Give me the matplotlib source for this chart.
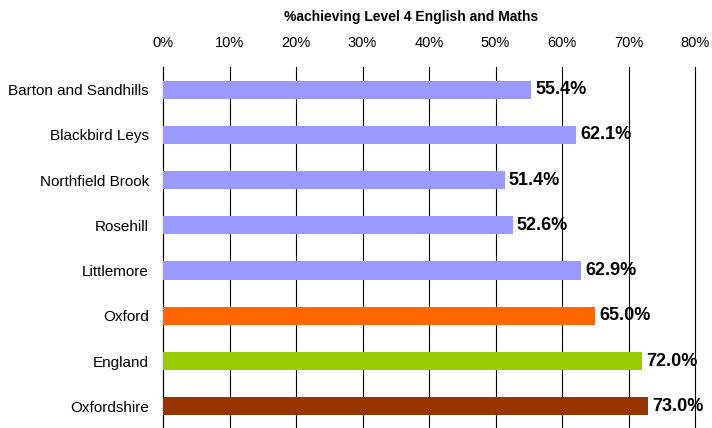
import matplotlib
matplotlib.use("Agg")
import matplotlib.pyplot as plt
from matplotlib.ticker import FuncFormatter

categories = ["Barton and Sandhills", "Blackbird Leys", "Northfield Brook", "Rosehill",
              "Littlemore", "Oxford", "England", "Oxfordshire"]
values = [55.4, 62.1, 51.4, 52.6, 62.9, 65.0, 72.0, 73.0]
colors = ["#9999FF", "#9999FF", "#9999FF", "#9999FF", "#9999FF", "#FF6600", "#99CC00", "#993300"]
title = "%achieving Level 4 English and Maths"

plt.rcParams['font.family'] = ['Liberation Sans', 'DejaVu Sans']
fig = plt.figure(figsize=(7.12, 4.28), dpi=100)
ax = fig.add_axes([163/712, -0.002, (695-163)/712, 1 - 67/428 + 0.002])

y = list(range(len(categories)))
ax.barh(y, values, height=0.4, color=colors, zorder=3)
for yi, v in zip(y, values):
    ax.text(v + 0.6, yi, f"{v:.1f}%", va="center", ha="left", fontsize=13, fontweight="bold", zorder=4)

ax.set_xlim(0, 80)
ax.set_ylim(len(categories) - 0.5, -0.5)
ax.set_yticks(y)
ax.set_yticklabels(categories, fontsize=11)
ax.set_xticks(range(0, 81, 10))
ax.xaxis.set_major_formatter(FuncFormatter(lambda x, p: f"{int(x)}%"))
ax.xaxis.tick_top()
ax.tick_params(axis='x', length=0, pad=12, labelsize=10.5)
ax.tick_params(axis='y', length=0, pad=10)
ax.grid(axis='x', color='black', linewidth=0.8, zorder=0)
for gl in ax.get_xgridlines():
    gl.set_clip_on(False)
for s in ['top', 'right', 'bottom']:
    ax.spines[s].set_visible(False)
ax.spines['left'].set_color('black')
ax.spines['left'].set_linewidth(0.8)

fig.text(411/712, 1 - 17/428, title, ha='center', va='center', fontsize=10, fontweight='bold')

fig.savefig("out.png", dpi=100)
